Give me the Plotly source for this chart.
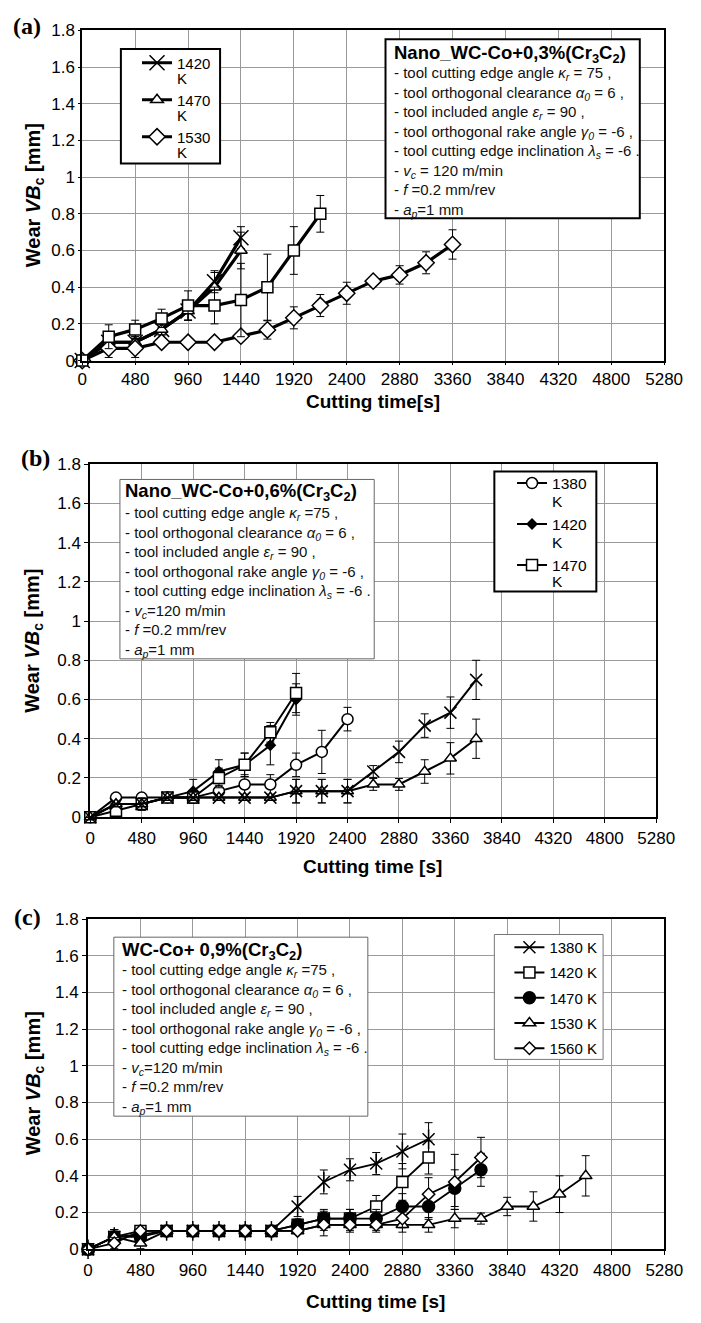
import plotly.graph_objects as go

W, H = 701, 1323
FONT = "Liberation Sans"

# ---------------- data ----------------
# Panel (a): Nano_WC-Co+0,3%(Cr3C2)
a_t_1420 = [0, 240, 480, 720, 960, 1200, 1440]
a_v_1420 = [0, 0.10, 0.10, 0.17, 0.27, 0.43, 0.67]
a_e_1420 = [0, 0.03, 0.03, 0.03, 0.05, 0.06, 0.06]

a_t_1470 = [0, 240, 480, 720, 960, 1200, 1440]
a_v_1470 = [0, 0.10, 0.10, 0.17, 0.27, 0.40, 0.60]
a_e_1470 = [0, 0.03, 0.03, 0.03, 0.05, 0.08, 0.10]

a_t_sq = [0, 240, 480, 720, 960, 1200, 1440, 1680, 1920, 2160]
a_v_sq = [0, 0.13, 0.17, 0.23, 0.30, 0.30, 0.33, 0.40, 0.60, 0.80]
a_e_sq = [0, 0.065, 0.05, 0.05, 0.08, 0.10, 0.20, 0.18, 0.13, 0.10]

a_t_1530 = [0, 240, 480, 720, 960, 1200, 1440, 1680, 1920, 2160, 2400, 2640, 2880, 3120, 3360]
a_v_1530 = [0, 0.067, 0.067, 0.10, 0.10, 0.10, 0.133, 0.167, 0.233, 0.30, 0.367, 0.433, 0.467, 0.533, 0.633]
a_e_1530 = [0, 0.05, 0.05, 0, 0, 0, 0, 0.05, 0.06, 0.06, 0.06, 0, 0.05, 0.06, 0.08]

# Panel (b): Nano_WC-Co+0,6%(Cr3C2)
b_t_1380 = [0, 240, 480, 720, 960, 1200, 1440, 1680, 1920, 2160, 2400]
b_v_1380 = [0, 0.10, 0.10, 0.10, 0.10, 0.133, 0.167, 0.167, 0.267, 0.333, 0.50]
b_e_1380 = [0, 0, 0, 0, 0, 0.03, 0.05, 0.05, 0.06, 0.11, 0.06]

b_t_1420 = [0, 240, 480, 720, 960, 1200, 1440, 1680, 1920]
b_v_1420 = [0, 0.067, 0.067, 0.10, 0.133, 0.233, 0.267, 0.367, 0.60]
b_e_1420 = [0, 0, 0.03, 0, 0.06, 0.06, 0.06, 0.10, 0.08]

b_t_1470 = [0, 240, 480, 720, 960, 1200, 1440, 1680, 1920]
b_v_1470 = [0, 0.033, 0.067, 0.10, 0.10, 0.20, 0.267, 0.433, 0.633]
b_e_1470 = [0, 0, 0.03, 0, 0.03, 0.05, 0.06, 0.05, 0.10]

b_t_x = [0, 240, 480, 720, 960, 1200, 1440, 1680, 1920, 2160, 2400, 2640, 2880, 3120, 3360, 3600]
b_v_x = [0, 0.067, 0.067, 0.10, 0.10, 0.10, 0.10, 0.10, 0.133, 0.133, 0.133, 0.233, 0.333, 0.467, 0.533, 0.70]
b_e_x = [0, 0, 0.03, 0, 0, 0, 0, 0, 0.06, 0.06, 0.06, 0.03, 0.055, 0.06, 0.08, 0.10]

b_t_tri = [0, 240, 480, 720, 960, 1200, 1440, 1680, 1920, 2160, 2400, 2640, 2880, 3120, 3360, 3600]
b_v_tri = [0, 0.067, 0.067, 0.10, 0.10, 0.10, 0.10, 0.10, 0.133, 0.133, 0.133, 0.167, 0.167, 0.233, 0.30, 0.40]
b_e_tri = [0, 0, 0.03, 0, 0, 0, 0, 0, 0.06, 0.06, 0.06, 0.03, 0.03, 0.06, 0.08, 0.10]

# Panel (c): WC-Co+ 0,9%(Cr3C2)
c_t_1380 = [0, 240, 480, 720, 960, 1200, 1440, 1680, 1920, 2160, 2400, 2640, 2880, 3120]
c_v_1380 = [0, 0.067, 0.08, 0.10, 0.10, 0.10, 0.10, 0.10, 0.233, 0.367, 0.433, 0.467, 0.533, 0.60]
c_e_1380 = [0, 0.04, 0.03, 0, 0, 0, 0, 0, 0.055, 0.065, 0.06, 0.06, 0.095, 0.09]

c_t_1420 = [0, 240, 480, 720, 960, 1200, 1440, 1680, 1920, 2160, 2400, 2640, 2880, 3120]
c_v_1420 = [0, 0.067, 0.10, 0.10, 0.10, 0.10, 0.10, 0.10, 0.133, 0.167, 0.167, 0.233, 0.367, 0.50]
c_e_1420 = [0, 0.04, 0, 0, 0, 0, 0, 0, 0.03, 0.04, 0.05, 0.06, 0.10, 0.09]

c_t_1470 = [0, 240, 480, 720, 960, 1200, 1440, 1680, 1920, 2160, 2400, 2640, 2880, 3120, 3360, 3600]
c_v_1470 = [0, 0.067, 0.067, 0.10, 0.10, 0.10, 0.10, 0.10, 0.133, 0.167, 0.167, 0.167, 0.233, 0.233, 0.333, 0.433]
c_e_1470 = [0, 0.04, 0.03, 0, 0, 0, 0, 0, 0.03, 0.05, 0.05, 0.05, 0.07, 0.07, 0.10, 0.09]

c_t_1530 = [0, 240, 480, 720, 960, 1200, 1440, 1680, 1920, 2160, 2400, 2640, 2880, 3120, 3360, 3600, 3840, 4080, 4320, 4560]
c_v_1530 = [0, 0.067, 0.033, 0.10, 0.10, 0.10, 0.10, 0.10, 0.10, 0.133, 0.133, 0.133, 0.133, 0.133, 0.167, 0.167, 0.233, 0.233, 0.30, 0.40]
c_e_1530 = [0, 0.03, 0.03, 0, 0, 0, 0, 0, 0, 0.03, 0.03, 0.03, 0.04, 0.04, 0.05, 0.03, 0.05, 0.08, 0.10, 0.11]

c_t_1560 = [0, 240, 480, 720, 960, 1200, 1440, 1680, 1920, 2160, 2400, 2640, 2880, 3120, 3360, 3600]
c_v_1560 = [0, 0.033, 0.10, 0.10, 0.10, 0.10, 0.10, 0.10, 0.10, 0.133, 0.133, 0.133, 0.167, 0.30, 0.367, 0.50]
c_e_1560 = [0, 0.03, 0, 0, 0, 0, 0, 0, 0, 0.06, 0.04, 0.04, 0.05, 0.09, 0.15, 0.11]

x_ticks = [0, 480, 960, 1440, 1920, 2400, 2880, 3360, 3840, 4320, 4800, 5280]
y_ticks = [0, 0.2, 0.4, 0.6, 0.8, 1.0, 1.2, 1.4, 1.6, 1.8]
y_ticktext = ["0", "0.2", "0.4", "0.6", "0.8", "1", "1.2", "1.4", "1.6", "1.8"]

params_a = [
    "- tool cutting edge angle <i>κ<sub>r</sub></i> = 75 ,",
    "- tool orthogonal clearance <i>α<sub>0</sub></i> = 6 ,",
    "- tool included angle <i>ε<sub>r</sub></i> = 90 ,",
    "- tool orthogonal rake angle <i>γ<sub>0</sub></i> = -6 ,",
    "- tool cutting edge inclination <i>λ<sub>s</sub></i> = -6 .",
    "- <i>v<sub>c</sub></i> = 120 m/min",
    "- <i>f</i> =0.2 mm/rev",
    "- <i>a<sub>p</sub></i>=1 mm",
]
params_bc = [
    "- tool cutting edge angle <i>κ<sub>r</sub></i> =75 ,",
    "- tool orthogonal clearance <i>α<sub>0</sub></i> = 6 ,",
    "- tool included angle <i>ε<sub>r</sub></i> = 90 ,",
    "- tool orthogonal rake angle <i>γ<sub>0</sub></i> = -6 ,",
    "- tool cutting edge inclination <i>λ<sub>s</sub></i> = -6 .",
    "- <i>v<sub>c</sub></i>=120 m/min",
    "- <i>f</i> =0.2 mm/rev",
    "- <i>a<sub>p</sub></i>=1 mm",
]
title_a = "Nano_WC-Co+0,3%(Cr<sub>3</sub>C<sub>2</sub>)"
title_b = "Nano_WC-Co+0,6%(Cr<sub>3</sub>C<sub>2</sub>)"
title_c = "WC-Co+ 0,9%(Cr<sub>3</sub>C<sub>2</sub>)"


def PX(x):
    return x / W


def PY(y):
    return 1 - y / H


fig = go.Figure()


def add(t, v, e, name, sym, size, lw, ax, legend, fill="white", show=True, mlw=1.5):
    xa = "x" if ax == 1 else "x%d" % ax
    ya = "y" if ax == 1 else "y%d" % ax
    fig.add_trace(go.Scatter(
        x=t, y=v, name=name, mode="lines+markers",
        xaxis=xa, yaxis=ya, legend=legend, showlegend=show,
        legendgroup=name + legend,
        line=dict(color="black", width=lw),
        marker=dict(symbol=sym, size=size, color=fill,
                    line=dict(color="black", width=mlw)),
        error_y=dict(type="data", array=e, visible=True, color="black",
                     thickness=1, width=4),
        cliponaxis=False,
    ))


# panel (a)
add(a_t_1420, a_v_1420, a_e_1420, "1420", "x-thin", 15, 3.2, 1, "legend")
add(a_t_1470, a_v_1470, a_e_1470, "1470", "triangle-up", 11, 3.2, 1, "legend")
add(a_t_1530, a_v_1530, a_e_1530, "1530", "diamond", 12.5, 3.2, 1, "legend")
add(a_t_sq, a_v_sq, a_e_sq, "sq", "square", 11, 3.2, 1, "legend", show=False)

# panel (b)
add(b_t_1380, b_v_1380, b_e_1380, "1380", "circle", 11, 2, 2, "legend2")
add(b_t_1420, b_v_1420, b_e_1420, "1420", "diamond", 7.5, 2, 2, "legend2", fill="black")
add(b_t_1470, b_v_1470, b_e_1470, "1470", "square", 11, 2, 2, "legend2")
add(b_t_tri, b_v_tri, b_e_tri, "tri", "triangle-up", 10.5, 2, 2, "legend2", show=False)
add(b_t_x, b_v_x, b_e_x, "x", "x-thin", 12, 2, 2, "legend2", show=False)

# panel (c)
add(c_t_1380, c_v_1380, c_e_1380, "1380 K", "x-thin", 12, 1.8, 3, "legend3")
fig.add_trace(go.Scatter(x=c_t_1380, y=c_v_1380, mode="markers", xaxis="x3", yaxis="y3",
                         showlegend=False, cliponaxis=False, hoverinfo="skip",
                         marker=dict(symbol="line-ns", size=14, color="black",
                                     line=dict(color="black", width=1.5))))
add(c_t_1420, c_v_1420, c_e_1420, "1420 K", "square", 11, 1.8, 3, "legend3")
add(c_t_1470, c_v_1470, c_e_1470, "1470 K", "circle", 12, 1.8, 3, "legend3", fill="black")
add(c_t_1530, c_v_1530, c_e_1530, "1530 K", "triangle-up", 11, 1.8, 3, "legend3")
add(c_t_1560, c_v_1560, c_e_1560, "1560 K", "diamond", 9.5, 1.8, 3, "legend3")

panels = {
    1: dict(x0=80, x1=682.5, y0=21.7, y1=356.7),
    2: dict(x0=88.3, x1=674.3, y0=461.7, y1=820),
    3: dict(x0=86, x1=682.7, y0=923.3, y1=1258.3),
}

layout = dict(
    width=W, height=H, margin=dict(l=0, r=0, t=0, b=0),
    paper_bgcolor="white", plot_bgcolor="white",
    font=dict(family=FONT, color="black", size=15),
    showlegend=True,
)
for k, p in panels.items():
    sx = "" if k == 1 else str(k)
    axcommon = dict(showline=True, mirror=True, linecolor="black", linewidth=2,
                    showgrid=True, gridcolor="#9a9a9a", gridwidth=1, zeroline=False,
                    ticks="outside", ticklen=4 if k > 1 else 2, tickcolor="black",
                    tickfont=dict(family=FONT, size=17, color="black"))
    layout["xaxis" + sx] = dict(domain=[PX(p["x0"]), PX(p["x1"])], range=[0, 5280],
                                tickvals=x_ticks, anchor="y" + sx, **axcommon)
    layout["yaxis" + sx] = dict(domain=[PY(p["y1"]), PY(p["y0"])], range=[0, 1.8],
                                tickvals=y_ticks, ticktext=y_ticktext,
                                anchor="x" + sx, **axcommon)

shapes = []
annotations = []

# legends: plotly legend for symbols + numbers, box drawn as shape, "K" as text
legend_specs = [
    # name, first item centre y, text left x, font, item pitch, box
    ("legend", 54.3, 176.7, 15, 37.0, (120, 40.7, 222.7, 156.7), "black", 2, [71, 108.5, 146]),
    ("legend2", 480.7, 565.0, 15.5, 41.0, (506.7, 469.3, 612.3, 591), "black", 2, [500, 541, 580.5]),
    ("legend3", 951.7, 562.3, 15, 25.25, (506.7, 939, 619.3, 1065.7), "#777777", 1, []),
]
for name, fy, tx, fs, pitch, box, bc, bw, ks in legend_specs:
    lh = fs * 1.3
    h = max(lh, 16) + 3
    gap = pitch - h
    top = fy - 5 - h / 2
    layout[name] = dict(x=PX(tx - 40), y=PY(top), xanchor="left", yanchor="top",
                        bgcolor="rgba(0,0,0,0)", borderwidth=0,
                        font=dict(family=FONT, size=fs, color="black"),
                        tracegroupgap=gap, traceorder="grouped")
    x0, y0, x1, y1 = box
    shapes.append(dict(type="rect", xref="paper", yref="paper",
                       x0=PX(x0), x1=PX(x1), y0=PY(y1), y1=PY(y0),
                       line=dict(color=bc, width=bw), fillcolor="white", layer="above"))
    for ky in ks:
        annotations.append(dict(xref="paper", yref="paper", x=PX(tx - 1), y=PY(ky),
                                xanchor="left", yanchor="middle", showarrow=False,
                                text="K", font=dict(family=FONT, size=fs, color="black")))

boxes = [
    dict(x0=394, y0=30.7, x1=657.3, y1=212.3, lc="black", lw=2, title=title_a,
         tx=400.7, ty=45.5, body=params_a, by=135),
    dict(x0=119, y0=477.3, x1=382.3, y1=659.3, lc="#666666", lw=1, title=title_b,
         tx=122.5, ty=490.5, body=params_bc, by=581.2),
    dict(x0=112.7, y0=941.7, x1=375.7, y1=1123.3, lc="#666666", lw=1, title=title_c,
         tx=119.3, ty=956, body=params_bc, by=1045),
]
for b in boxes:
    shapes.append(dict(type="rect", xref="paper", yref="paper",
                       x0=PX(b["x0"]), x1=PX(b["x1"]), y0=PY(b["y1"]), y1=PY(b["y0"]),
                       line=dict(color=b["lc"], width=b["lw"]), fillcolor="white",
                       layer="above"))
    annotations.append(dict(xref="paper", yref="paper", x=PX(b["tx"]), y=PY(b["ty"]),
                            xanchor="left", yanchor="middle", showarrow=False,
                            text="<b>" + b["title"] + "</b>",
                            font=dict(family=FONT, size=18.5, color="black")))
    annotations.append(dict(xref="paper", yref="paper", x=PX(b["tx"]), y=PY(b["by"]),
                            xanchor="left", yanchor="middle", showarrow=False, align="left",
                            text="<br>".join(b["body"]),
                            font=dict(family=FONT, size=15, color="#111111")))

# axis titles and panel labels
xt = [("Cutting time[s]", 381, 398), ("Cutting time [s]", 381, 870), ("Cutting time [s]", 384, 1311)]
for txt, x, y in xt:
    annotations.append(dict(xref="paper", yref="paper", x=PX(x), y=PY(y), showarrow=False,
                            xanchor="center", yanchor="middle", text="<b>" + txt + "</b>",
                            font=dict(family=FONT, size=19, color="black")))
yt = [189, 641, 1090]
for y in yt:
    annotations.append(dict(xref="paper", yref="paper", x=PX(30), y=PY(y), showarrow=False,
                            xanchor="center", yanchor="middle", textangle=-90,
                            text="<b>Wear <i>VB</i><sub>c</sub> [mm]</b>",
                            font=dict(family=FONT, size=20, color="black")))
pl = [("(a)", 23, 17), ("(b)", 31.7, 456), ("(c)", 23.3, 921)]
for txt, x, y in pl:
    annotations.append(dict(xref="paper", yref="paper", x=PX(x), y=PY(y), showarrow=False,
                            xanchor="center", yanchor="middle", text="<b>" + txt + "</b>",
                            font=dict(family="Liberation Serif", size=24, color="black")))

layout["shapes"] = shapes
layout["annotations"] = annotations
fig.update_layout(**layout)
fig.write_html("out.html")
